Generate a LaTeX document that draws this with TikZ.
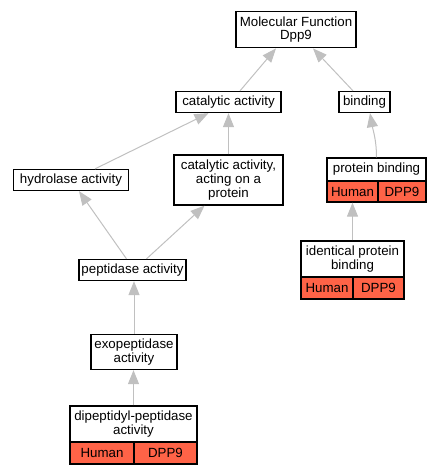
\documentclass[tikz,border=0pt]{standalone}
\usepackage{fontspec}
\setmainfont{Liberation Sans}
\usetikzlibrary{arrows.meta}
\definecolor{edgegray}{HTML}{C0C0C0}
\definecolor{tomato}{HTML}{FF6347}
\begin{document}
\begin{tikzpicture}[x=1pt,y=-1pt,
    term/.style={draw=black,line width=1.3pt,inner sep=0pt,align=center,font=\fontsize{13.3}{13.8}\selectfont},
    gene/.style={term,fill=tomato},
    isa/.style={draw=edgegray,line width=1pt,-{Triangle[length=14pt,width=11pt,fill=edgegray]}}]
    \useasboundingbox (0,0) rectangle (440,475);
    \node[term,minimum width=120pt,minimum height=36.5pt] (mf) at (296,29.5) {Molecular Function\\Dpp9};
    \node[term,minimum width=105pt,minimum height=21pt] (cat) at (228.5,102) {catalytic activity};
    \node[term,minimum width=51pt,minimum height=21pt] (bind) at (364.5,102) {binding};
    \node[term,minimum width=115pt,minimum height=21pt] (hydro) at (71,180) {hydrolase activity};
    \node[term,minimum width=109pt,minimum height=50pt] (catprot) at (228.5,180) {catalytic activity,\\acting on a\\protein};
    \node[term,minimum width=99pt,minimum height=23pt] (pb) at (376.5,169.5) {protein binding};
    \node[gene,minimum width=51pt,minimum height=21pt] (pbhuman) at (352.5,191.5) {Human};
    \node[gene,minimum width=48pt,minimum height=21pt] (pbgene) at (402,191.5) {DPP9};
    \node[term,minimum width=107pt,minimum height=21pt] (pept) at (132.5,270) {peptidase activity};
    \node[term,minimum width=103pt,minimum height=36pt] (ident) at (352.5,259) {identical protein\\binding};
    \node[gene,minimum width=52pt,minimum height=22pt] (idhuman) at (327,288) {Human};
    \node[gene,minimum width=51pt,minimum height=22pt] (idgene) at (378.5,288) {DPP9};
    \node[term,minimum width=86pt,minimum height=35pt] (exo) at (134,352) {exopeptidase\\activity};
    \node[term,minimum width=127pt,minimum height=36pt] (dipep) at (133.5,424) {dipeptidyl-peptidase\\activity};
    \node[gene,minimum width=64pt,minimum height=22pt] (dphuman) at (102,453) {Human};
    \node[gene,minimum width=63pt,minimum height=22pt] (dpgene) at (165.5,453) {DPP9};
    \draw[isa] ([xshift=11.5pt]cat.north) -- ([xshift=-20pt]mf.south);
    \draw[isa] ([xshift=-11.5pt]bind.north) -- ([xshift=17pt]mf.south);
    \draw[isa] ([xshift=24pt]hydro.north) -- ([xshift=-20pt]cat.south);
    \draw[isa] (catprot.north) -- (cat.south);
    \draw[isa] (pb.north) to[out=90,in=-80] ([xshift=5.5pt]bind.south);
    \draw[isa] ([xshift=-6pt]pept.north) -- ([xshift=8pt]hydro.south);
    \draw[isa] ([xshift=14pt]pept.north) -- ([xshift=-24pt]catprot.south);
    \draw[isa] (exo.north) -- (exo.north |- pept.south);
    \draw[isa] (dipep.north) -- (dipep.north |- exo.south);
    \draw[isa] (ident.north) -- (ident.north |- pbhuman.south);
\end{tikzpicture}
\end{document}
